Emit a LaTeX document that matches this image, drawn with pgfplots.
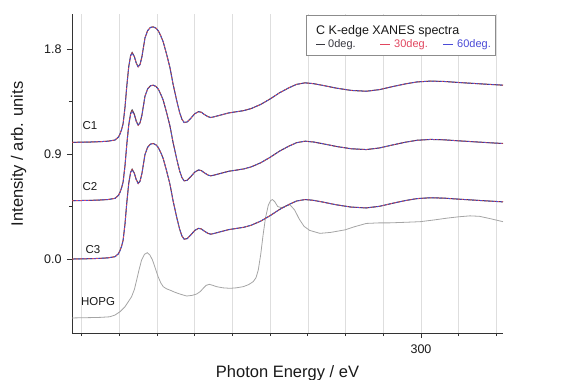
\documentclass[border=0pt]{standalone}
\usepackage{fontspec}
\setmainfont{Liberation Sans}
\usepackage{pgfplots}
\pgfplotsset{compat=1.18}
\usepackage{pgfplotstable}
\definecolor{czero}{rgb}{0.22,0.22,0.25}
\definecolor{cthirty}{RGB}{225,70,95}
\definecolor{csixty}{RGB}{75,75,215}
\definecolor{chopg}{RGB}{165,165,165}

\pgfplotstableread{
E a b c
281.50 1.000 1.000 1.000
282.50 1.003 1.003 1.003
283.00 1.006 1.006 1.006
283.40 1.010 1.010 1.010
283.77 1.020 1.020 1.020
283.95 1.045 1.045 1.044
284.03 1.070 1.070 1.068
284.12 1.110 1.110 1.108
284.20 1.160 1.158 1.156
284.30 1.300 1.298 1.295
284.40 1.490 1.488 1.485
284.50 1.650 1.648 1.645
284.60 1.745 1.742 1.740
284.68 1.770 1.767 1.764
284.80 1.735 1.732 1.730
284.90 1.680 1.678 1.676
285.00 1.648 1.646 1.645
285.10 1.668 1.667 1.666
285.20 1.735 1.734 1.733
285.36 1.895 1.894 1.893
285.50 1.958 1.957 1.956
285.65 1.985 1.985 1.984
285.80 1.990 1.990 1.990
285.95 1.978 1.978 1.978
286.07 1.955 1.955 1.955
286.20 1.912 1.912 1.912
286.33 1.860 1.860 1.860
286.50 1.760 1.760 1.760
286.68 1.645 1.645 1.645
286.85 1.500 1.500 1.500
287.04 1.360 1.360 1.360
287.20 1.255 1.255 1.255
287.32 1.198 1.198 1.198
287.44 1.170 1.170 1.170
287.60 1.175 1.175 1.175
287.80 1.208 1.208 1.208
288.00 1.245 1.245 1.245
288.20 1.263 1.263 1.263
288.35 1.258 1.258 1.258
288.50 1.240 1.240 1.240
288.70 1.220 1.220 1.220
288.85 1.213 1.213 1.213
289.00 1.218 1.218 1.218
289.40 1.235 1.235 1.235
289.80 1.252 1.252 1.252
290.20 1.262 1.262 1.262
290.60 1.272 1.272 1.272
291.00 1.290 1.290 1.290
291.50 1.325 1.325 1.325
292.00 1.372 1.372 1.372
292.50 1.425 1.425 1.425
293.00 1.468 1.468 1.468
293.40 1.497 1.497 1.497
293.85 1.510 1.510 1.510
294.30 1.503 1.503 1.503
294.80 1.488 1.488 1.488
295.50 1.465 1.465 1.465
296.30 1.445 1.445 1.445
297.10 1.438 1.438 1.438
297.80 1.452 1.452 1.452
298.50 1.478 1.478 1.478
299.20 1.502 1.502 1.502
299.80 1.518 1.518 1.518
300.50 1.525 1.525 1.525
301.20 1.522 1.522 1.522
302.00 1.513 1.513 1.513
302.80 1.505 1.505 1.505
303.60 1.497 1.497 1.497
304.35 1.490 1.490 1.490
}\cone

\pgfplotstableread{
E a b c
281.50 0.500 0.500 0.500
282.50 0.503 0.503 0.503
283.00 0.506 0.506 0.506
283.40 0.510 0.510 0.510
283.77 0.520 0.520 0.520
283.95 0.545 0.545 0.544
284.03 0.570 0.570 0.568
284.12 0.610 0.610 0.608
284.20 0.660 0.658 0.656
284.30 0.800 0.798 0.795
284.40 0.990 0.988 0.985
284.50 1.150 1.148 1.145
284.60 1.250 1.244 1.240
284.68 1.278 1.270 1.266
284.80 1.240 1.234 1.230
284.90 1.182 1.178 1.176
285.00 1.148 1.146 1.145
285.10 1.168 1.167 1.166
285.20 1.235 1.234 1.233
285.36 1.395 1.394 1.393
285.50 1.458 1.457 1.456
285.65 1.485 1.485 1.484
285.80 1.490 1.490 1.490
285.95 1.478 1.478 1.478
286.07 1.455 1.455 1.455
286.20 1.412 1.412 1.412
286.33 1.360 1.360 1.360
286.50 1.260 1.260 1.260
286.68 1.145 1.145 1.145
286.85 1.000 1.000 1.000
287.04 0.860 0.860 0.860
287.20 0.755 0.755 0.755
287.32 0.698 0.698 0.698
287.44 0.670 0.670 0.670
287.60 0.675 0.675 0.675
287.80 0.708 0.708 0.708
288.00 0.745 0.745 0.745
288.20 0.763 0.763 0.763
288.35 0.758 0.758 0.758
288.50 0.740 0.740 0.740
288.70 0.720 0.720 0.720
288.85 0.713 0.713 0.713
289.00 0.718 0.718 0.718
289.40 0.735 0.735 0.735
289.80 0.752 0.752 0.752
290.20 0.762 0.762 0.762
290.60 0.772 0.772 0.772
291.00 0.790 0.790 0.790
291.50 0.825 0.825 0.825
292.00 0.872 0.872 0.872
292.50 0.925 0.925 0.925
293.00 0.968 0.968 0.968
293.40 0.997 0.997 0.997
293.85 1.010 1.010 1.010
294.30 1.003 1.003 1.003
294.80 0.988 0.988 0.988
295.50 0.965 0.965 0.965
296.30 0.945 0.945 0.945
297.10 0.938 0.938 0.938
297.80 0.952 0.952 0.952
298.50 0.978 0.978 0.978
299.20 1.002 1.002 1.002
299.80 1.018 1.018 1.018
300.50 1.025 1.025 1.025
301.20 1.022 1.022 1.022
302.00 1.013 1.013 1.013
302.80 1.005 1.005 1.005
303.60 0.997 0.997 0.997
304.35 0.990 0.990 0.990
}\ctwo

\pgfplotstableread{
E a b c
281.50 0.000 0.000 0.000
282.50 0.003 0.003 0.003
283.00 0.006 0.006 0.006
283.40 0.010 0.010 0.010
283.77 0.020 0.020 0.020
283.95 0.045 0.045 0.044
284.03 0.070 0.070 0.068
284.12 0.110 0.110 0.108
284.20 0.160 0.158 0.156
284.30 0.300 0.298 0.295
284.40 0.490 0.488 0.485
284.50 0.650 0.648 0.645
284.60 0.745 0.742 0.740
284.68 0.770 0.767 0.764
284.80 0.735 0.732 0.730
284.90 0.680 0.678 0.676
285.00 0.648 0.646 0.645
285.10 0.668 0.667 0.666
285.20 0.735 0.734 0.733
285.36 0.895 0.894 0.893
285.50 0.958 0.957 0.956
285.65 0.985 0.985 0.984
285.80 0.990 0.990 0.990
285.95 0.978 0.978 0.978
286.07 0.955 0.955 0.955
286.20 0.912 0.912 0.912
286.33 0.860 0.860 0.860
286.50 0.760 0.760 0.760
286.68 0.645 0.645 0.645
286.85 0.500 0.500 0.500
287.04 0.360 0.360 0.360
287.20 0.255 0.255 0.255
287.32 0.198 0.198 0.198
287.44 0.170 0.170 0.170
287.60 0.175 0.175 0.175
287.80 0.208 0.208 0.208
288.00 0.245 0.245 0.245
288.20 0.263 0.263 0.263
288.35 0.258 0.258 0.258
288.50 0.240 0.240 0.240
288.70 0.220 0.220 0.220
288.85 0.213 0.213 0.213
289.00 0.218 0.218 0.218
289.40 0.235 0.235 0.235
289.80 0.252 0.252 0.252
290.20 0.262 0.262 0.262
290.60 0.272 0.272 0.272
291.00 0.290 0.290 0.290
291.50 0.325 0.325 0.325
292.00 0.372 0.372 0.372
292.50 0.425 0.425 0.425
293.00 0.468 0.468 0.468
293.40 0.497 0.497 0.497
293.85 0.510 0.510 0.510
294.30 0.503 0.503 0.503
294.80 0.488 0.488 0.488
295.50 0.465 0.465 0.465
296.30 0.445 0.445 0.445
297.10 0.438 0.438 0.438
297.80 0.452 0.452 0.452
298.50 0.478 0.478 0.478
299.20 0.502 0.502 0.502
299.80 0.518 0.518 0.518
300.50 0.525 0.525 0.525
301.20 0.522 0.522 0.522
302.00 0.513 0.513 0.513
302.80 0.505 0.505 0.505
303.60 0.497 0.497 0.497
304.35 0.490 0.490 0.490
}\cthree

\pgfplotstableread{
E v
281.50 -0.505
282.50 -0.502
283.00 -0.500
283.50 -0.495
283.77 -0.480
284.05 -0.450
284.30 -0.409
284.50 -0.360
284.65 -0.323
284.80 -0.260
284.92 -0.180
285.05 -0.090
285.18 -0.009
285.33 0.040
285.48 0.054
285.62 0.035
285.76 -0.009
285.90 -0.075
286.06 -0.152
286.20 -0.205
286.33 -0.237
286.50 -0.255
286.68 -0.266
286.95 -0.285
287.21 -0.300
287.57 -0.317
287.85 -0.312
288.10 -0.300
288.30 -0.278
288.45 -0.251
288.60 -0.226
288.77 -0.217
288.95 -0.225
289.16 -0.237
289.50 -0.247
289.87 -0.251
290.20 -0.247
290.57 -0.237
290.85 -0.220
291.10 -0.194
291.25 -0.160
291.37 -0.094
291.50 0.040
291.62 0.200
291.75 0.350
291.90 0.460
292.02 0.500
292.12 0.510
292.25 0.490
292.40 0.450
292.60 0.440
292.85 0.455
293.05 0.465
293.30 0.420
293.55 0.340
293.80 0.280
294.10 0.245
294.64 0.220
295.20 0.228
295.97 0.250
296.50 0.278
297.10 0.305
297.80 0.310
298.36 0.310
299.20 0.315
299.95 0.320
300.70 0.335
301.36 0.350
302.00 0.362
302.60 0.370
303.10 0.366
303.70 0.345
304.35 0.320
}\hopg

\begin{document}
\begin{tikzpicture}
\begin{axis}[
  at={(0pt,0pt)}, anchor=south west,
  scale only axis, width=431pt, height=319pt,
  xmin=281.49, xmax=304.35, ymin=-0.634, ymax=2.10,
  axis x line*=bottom, axis y line*=left,
  axis line style={black!80, line width=0.9pt},
  tick align=outside,
  xtick={280,300,320}, xticklabels={280,300,320}, minor x tick num=9,
  ytick={0,0.9,1.8}, yticklabels={0.0,0.9,1.8}, minor y tick num=1,
  major tick length=5pt, minor tick length=3pt,
  tick style={black!80, line width=0.8pt},
  xmajorgrids, xminorgrids,
  major grid style={black!13, line width=0.5pt},
  minor grid style={black!13, line width=0.5pt},
  /pgf/number format/assume math mode=true,
  ticklabel style={font=\fontsize{12.5}{14}\selectfont, text=black!90},
  xticklabel style={yshift=-3pt},
  yticklabel style={xshift=-2pt},
  xlabel={Photon Energy / eV},
  ylabel={Intensity / arb. units},
  label style={font=\fontsize{16.5}{19}\selectfont, text=black!90},
  xlabel style={at={(axis description cs:0.5,-0.1254)}, anchor=center},
  ylabel style={at={(axis description cs:-0.1241,0.561)}, anchor=center},
  clip=false,
]
\addplot[chopg, line width=0.8pt] table[x=E, y=v] {\hopg};
\addplot[czero, line width=1pt] table[x=E, y=a] {\cone};
\addplot[cthirty, line width=0.75pt, dash pattern=on 2pt off 2pt] table[x=E, y=b] {\cone};
\addplot[csixty, line width=0.75pt, dash pattern=on 2pt off 2pt, dash phase=2pt] table[x=E, y=c] {\cone};
\addplot[czero, line width=1pt] table[x=E, y=a] {\ctwo};
\addplot[cthirty, line width=0.75pt, dash pattern=on 2pt off 2pt] table[x=E, y=b] {\ctwo};
\addplot[csixty, line width=0.75pt, dash pattern=on 2pt off 2pt, dash phase=2pt] table[x=E, y=c] {\ctwo};
\addplot[czero, line width=1pt] table[x=E, y=a] {\cthree};
\addplot[cthirty, line width=0.75pt, dash pattern=on 2pt off 2pt] table[x=E, y=b] {\cthree};
\addplot[csixty, line width=0.75pt, dash pattern=on 2pt off 2pt, dash phase=2pt] table[x=E, y=c] {\cthree};
\node[font=\fontsize{11.5}{13}\selectfont, text=black!90] at (axis cs:282.44,1.148) {C1};
\node[font=\fontsize{11.5}{13}\selectfont, text=black!90] at (axis cs:282.44,0.617) {C2};
\node[font=\fontsize{11.5}{13}\selectfont, text=black!90] at (axis cs:282.60,0.077) {C3};
\node[font=\fontsize{11.5}{13}\selectfont, text=black!90] at (axis cs:282.87,-0.368) {HOPG};
\end{axis}
\draw[black!45, line width=0.7pt, fill=white] (234pt,278pt) rectangle (423pt,318pt);
\node[anchor=west, inner sep=1pt, font=\fontsize{12.5}{14}\selectfont, text=black!90] at (243pt,302pt) {C K-edge XANES spectra};
\draw[czero, line width=1pt] (244pt,288pt) -- (253pt,288pt);
\node[anchor=west, inner sep=1pt, font=\fontsize{11}{12}\selectfont, text=czero] at (255pt,288pt) {0deg.};
\draw[cthirty, line width=1pt] (308pt,288pt) -- (318pt,288pt);
\node[anchor=west, inner sep=1pt, font=\fontsize{11}{12}\selectfont, text=cthirty] at (321pt,288pt) {30deg.};
\draw[csixty, line width=1pt] (371pt,288pt) -- (381pt,288pt);
\node[anchor=west, inner sep=1pt, font=\fontsize{11}{12}\selectfont, text=csixty] at (384pt,288pt) {60deg.};
\pgfresetboundingbox
\path (-72pt,-47pt) rectangle (509pt,333pt);
\end{tikzpicture}
\end{document}
